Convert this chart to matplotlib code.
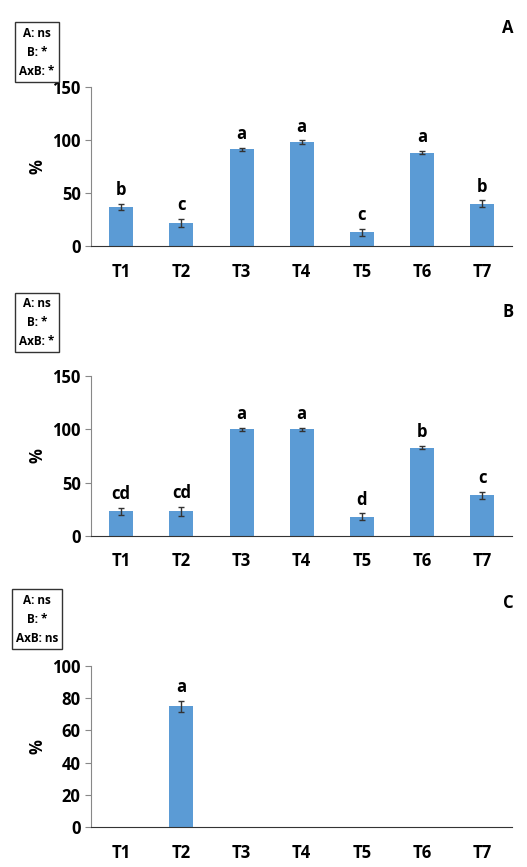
import matplotlib
matplotlib.use("Agg")
import matplotlib.pyplot as plt
import numpy as np

cats = ["T1","T2","T3","T4","T5","T6","T7"]
a_vals = [37, 22, 91, 98, 13, 88, 40]
a_err = [3, 4, 1.5, 1.5, 3, 1.5, 3]
a_let = ["b","c","a","a","c","a","b"]
b_vals = [23, 23, 100, 100, 18, 83, 38]
b_err = [3, 4, 1.5, 1.5, 3, 1.5, 3]
b_let = ["cd","cd","a","a","d","b","c"]
c_vals = [0, 75, 0, 0, 0, 0, 0]
c_err = [0, 3.5, 0, 0, 0, 0, 0]
c_let = ["","a","","","","",""]

plt.rcParams['font.family'] = ['Open Sans', 'DejaVu Sans']
plt.rcParams['font.weight'] = 'bold'
fig = plt.figure(figsize=(5.27, 8.67), dpi=100)

panels = [
    (a_vals, a_err, a_let, 150, 50, [0.173, 0.716, 0.799, 0.184], "A", ["A: ns","B: *","AxB: *"], 0.995-0.0),
    (b_vals, b_err, b_let, 150, 50, [0.173, 0.382, 0.799, 0.184], "B", ["A: ns","B: *","AxB: *"], 0),
    (c_vals, c_err, c_let, 100, 20, [0.173, 0.046, 0.799, 0.186], "C", ["A: ns","B: *","AxB: ns"], 0),
]
boxes_y = [0.94, 0.628, 0.286]
letters_y = [0.968, 0.64, 0.305]
x = np.arange(len(cats))
for i, (v, e, l, ymax, step, pos, lab, txt, _) in enumerate(panels):
    ax = fig.add_axes(pos)
    ax.bar(x, v, width=0.4, color="#5B9BD5")
    for xi, vi, ei, li in zip(x, v, e, l):
        if ei > 0:
            ax.errorbar(xi, vi, yerr=ei, fmt='none', ecolor='#333333', capsize=2.5, elinewidth=1)
        if li:
            ax.text(xi, vi + ei + ymax*0.03, li, ha='center', va='bottom', fontsize=12, fontweight='bold')
    ax.set_xlim(-0.5, 6.5)
    ax.set_ylim(0, ymax)
    ax.set_yticks(np.arange(0, ymax+1, step))
    ax.set_xticks(x)
    ax.set_xticklabels(cats)
    ax.tick_params(axis='x', length=0, pad=12, labelsize=12)
    ax.tick_params(axis='y', labelsize=12, length=4, color='#888888')
    for s in ['top', 'right']:
        ax.spines[s].set_visible(False)
    ax.spines['left'].set_color('#888888')
    ax.spines['bottom'].set_color('#333333')
    ax.set_ylabel("%", fontsize=12, fontweight='bold')
    for t in ax.get_xticklabels() + ax.get_yticklabels():
        t.set_fontweight('bold')
    fig.text(0.975, letters_y[i], lab, ha='right', va='center', fontsize=12, fontweight='bold')
    fig.text(0.07, boxes_y[i], "\n".join(txt), ha='center', va='center', fontsize=8.5,
             fontweight='bold', linespacing=1.6,
             bbox=dict(boxstyle='square,pad=0.35', fc='white', ec='#333333', lw=1))

fig.savefig("out.png", dpi=100)
